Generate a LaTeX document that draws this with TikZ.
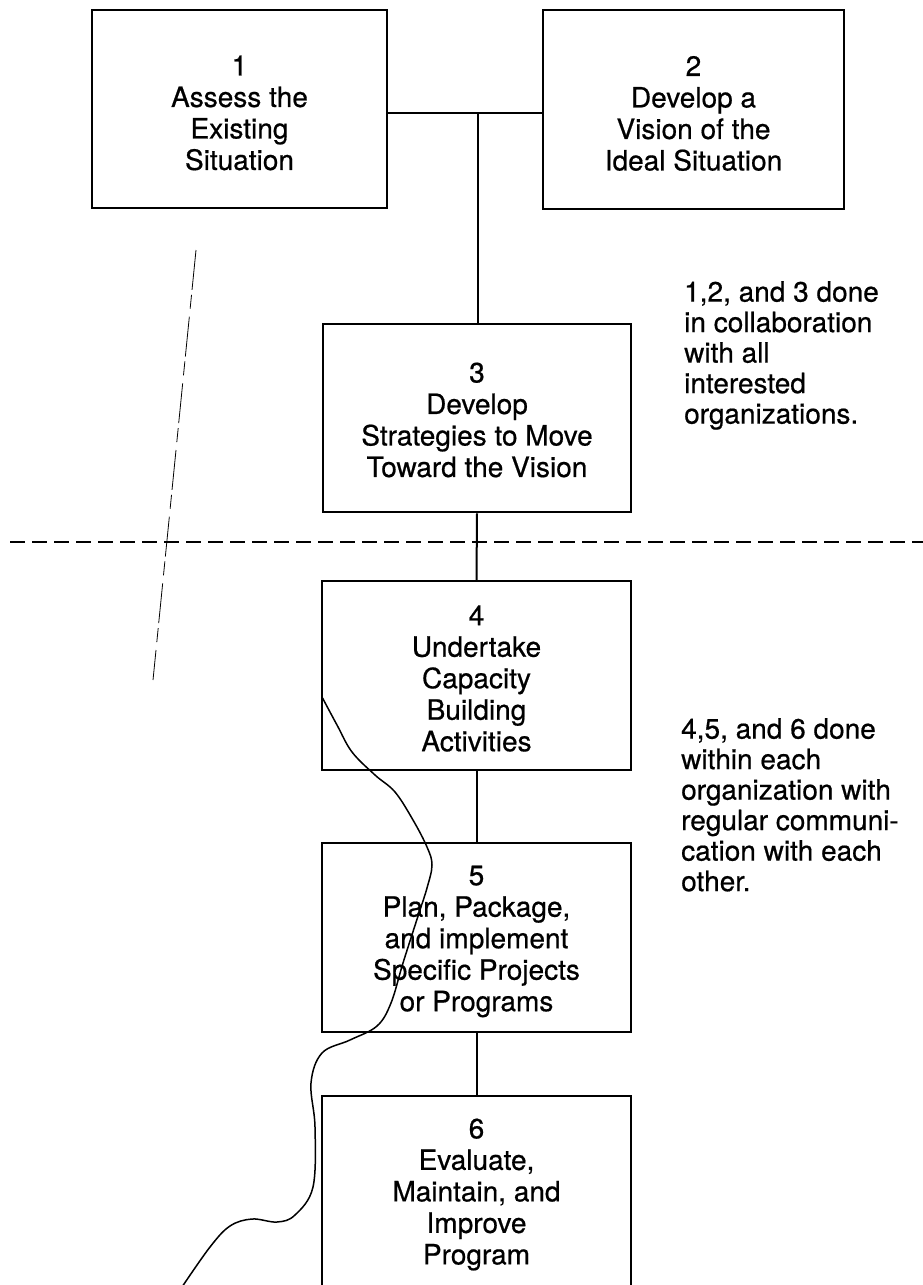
\documentclass[tikz,border=0pt]{standalone}
\usepackage{fontspec}
\setmainfont{TeX Gyre Heros}[FakeBold=0.6]
\begin{document}
\begin{tikzpicture}[x=1pt,y=-1pt,
  stagebox/.style={draw, line width=2.5pt, align=center, inner sep=0pt,
    font=\fontsize{28}{31.5}\selectfont},
  stagetext/.style={align=center, inner sep=0pt,
    font=\fontsize{28}{31.5}\selectfont},
  note/.style={anchor=north west, align=left, inner sep=0pt,
    font=\fontsize{28}{30.5}\selectfont},
  link/.style={line width=2pt},
  divider/.style={line width=2.4pt, dash pattern=on 15pt off 7pt},
  stray/.style={line width=1.5pt, line cap=round, line join=round}]
\useasboundingbox (0,0) rectangle (923,1285);
\clip (0,0) rectangle (923,1285);

% planning stages (frames, then their captions slightly below centre)
\node[stagebox, minimum width=295pt, minimum height=198pt] (s1) at (239.5,109) {};
\node[stagebox, minimum width=301pt, minimum height=199pt] (s2) at (693.5,109.5) {};
\node[stagebox, minimum width=308pt, minimum height=188pt] (s3) at (477,418) {};
\node[stagebox, minimum width=309pt, minimum height=189pt] (s4) at (476.5,675.5) {};
\node[stagebox, minimum width=309pt, minimum height=189pt] (s5) at (476.5,937.5) {};
\node[stagebox, minimum width=309pt, minimum height=197pt] (s6) at (476.5,1194.5) {};

\node[stagetext] (t1) at ([yshift=-4pt]s1.center) {1\\Assess the\\Existing\\Situation};
\node[stagetext] (t2) at ([yshift=-4pt]s2.center) {2\\Develop a\\Vision of the\\Ideal Situation};
\node[stagetext] (t3) at ([yshift=-2pt]s3.center) {3\\Develop\\Strategies to Move\\Toward the Vision};
\node[stagetext] (t4) at ([yshift=-3pt]s4.center) {4\\Undertake\\Capacity\\Building\\Activities};
\node[stagetext] (t5) at ([yshift=-4pt]s5.center) {5\\Plan, Package,\\and implement\\Specific Projects\\or Programs};
\node[stagetext] (t6) at ([yshift=0pt]s6.center) {6\\Evaluate,\\Maintain, and\\Improve\\Program};

% side notes
\node[note] (n1) at (684,281)
  {1,2, and 3 done\\in collaboration\\with all\\interested\\organizations.};
\node[note] (n2) at (681,718)
  {4,5, and 6 done\\within each\\organization with\\regular communi-\\cation with each\\other.};

% connectors
\coordinate (j) at (478,113);
\draw[link] (s1.east |- j) -- (s2.west |- j);
\draw[link] (j) -- (j |- s3.north);
\draw[link] (s3.south) -- (s4.north);
\draw[link] (s4.south) -- (s5.north);
\draw[link] (s5.south) -- (s6.north);

% boundary between the joint and the individual phases
\coordinate (dl) at (10,542);
\coordinate (dr) at (923,542);
\draw[divider] (dl) -- (dr);

% stray marks
\draw[line width=0.8pt, dash pattern=on 40pt off 5pt on 14pt off 8pt]
  (196,250) -- (153,680);
\draw[stray] plot[smooth, tension=0.6] coordinates {
  (322,697) (337,725) (352,752) (375,775) (395,792) (413,820) (427,847)
  (432,865) (427,888) (419,913) (403,963) (391,1003) (377,1026)
  (350,1040) (322,1053) (311,1083) (315,1127) (313,1187) (295,1215)
  (277,1222) (252,1219) (230,1226) (210,1247) (182,1287)};
\end{tikzpicture}
\end{document}
